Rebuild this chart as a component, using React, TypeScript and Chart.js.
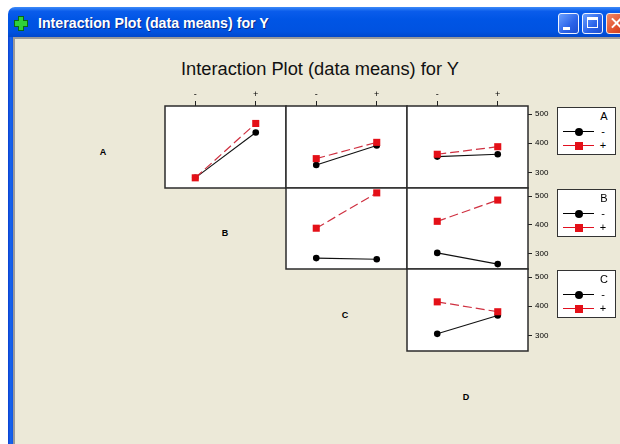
import React, { useEffect, useRef } from 'react';
import { Chart, registerables } from 'chart.js';

Chart.register(...registerables);

// ---- data ----
const levels = ['-', '+'];
const factors = ['A', 'B', 'C', 'D'];
const legendLevels = ['-', '+'];
const yTicks = [300, 400, 500];
const yMin = 246;
const yMax = 528;
const chartTitle = 'Interaction Plot (data means) for Y';

// means of Y: row factor at '-' (lo) and '+' (hi), across the column factor's levels
const AB_lo = [281, 437];
const AB_hi = [281, 468];
const AC_lo = [325, 392];
const AC_hi = [347, 403];
const AD_lo = [354, 362];
const AD_hi = [362, 388];
const BC_lo = [284, 280];
const BC_hi = [388, 511];
const BD_lo = [302, 263];
const BD_hi = [412, 486];
const CD_lo = [305, 368];
const CD_hi = [415, 381];

const panels = [
  { row: 0, col: 0, lo: AB_lo, hi: AB_hi },
  { row: 0, col: 1, lo: AC_lo, hi: AC_hi },
  { row: 0, col: 2, lo: AD_lo, hi: AD_hi },
  { row: 1, col: 1, lo: BC_lo, hi: BC_hi },
  { row: 1, col: 2, lo: BD_lo, hi: BD_hi },
  { row: 2, col: 2, lo: CD_lo, hi: CD_hi },
];

// ---- layout ----
const colX = [165, 286, 407, 528];
const rowY = [106, 188, 269, 351];
const M = 2;
const TOP_AXIS = 22;
const RIGHT_AXIS = 40;
const tickFont = "'Liberation Sans Narrow', 'Liberation Sans', Arial, sans-serif";

const framePlugin = {
  id: 'panelFrame',
  beforeDraw(chart: any) {
    const { ctx, chartArea: a } = chart;
    ctx.save();
    ctx.fillStyle = '#ffffff';
    ctx.fillRect(a.left, a.top, a.right - a.left, a.bottom - a.top);
    ctx.restore();
  },
  afterDraw(chart: any) {
    const { ctx, chartArea: a } = chart;
    ctx.save();
    ctx.strokeStyle = '#2b2b2b';
    ctx.lineWidth = 1.5;
    ctx.strokeRect(a.left, a.top, a.right - a.left, a.bottom - a.top);
    ctx.restore();
  },
};

function Panel({ spec }: { spec: any }) {
  const ref = useRef<HTMLCanvasElement>(null);
  const padT = spec.row === 0 ? TOP_AXIS : 0;
  const padR = spec.col === 2 ? RIGHT_AXIS : 0;
  const w = colX[spec.col + 1] - colX[spec.col];
  const h = rowY[spec.row + 1] - rowY[spec.row];
  const cw = w + padR + 2 * M;
  const ch = h + padT + 2 * M;
  const left = colX[spec.col] - M;
  const top = rowY[spec.row] - padT - M;

  useEffect(() => {
    const chart = new Chart(ref.current as HTMLCanvasElement, {
      type: 'line',
      data: {
        labels: levels,
        datasets: [
          {
            label: legendLevels[0],
            data: spec.lo,
            borderColor: '#111111',
            backgroundColor: '#000000',
            borderWidth: 1.1,
            pointStyle: 'circle',
            pointRadius: 3.3,
            pointBorderWidth: 0,
            order: 1,
            clip: false,
          },
          {
            label: legendLevels[1],
            data: spec.hi,
            borderColor: '#cf3040',
            backgroundColor: '#e41018',
            borderWidth: 1.2,
            borderDash: [9, 4],
            pointStyle: 'rect',
            pointRadius: 5,
            pointBorderWidth: 0,
            order: 0,
            clip: false,
          },
        ],
      },
      options: {
        responsive: false,
        animation: false,
        devicePixelRatio: 1,
        events: [],
        layout: { padding: M, autoPadding: false },
        plugins: {
          legend: { display: false },
          title: { display: false },
          tooltip: { enabled: false },
        },
        scales: {
          x: {
            type: 'category',
            position: 'top',
            offset: true,
            display: spec.row === 0,
            grid: {
              display: true,
              drawOnChartArea: false,
              drawTicks: true,
              tickLength: 5,
              color: '#222222',
              lineWidth: 1,
            },
            border: { display: false },
            ticks: {
              color: '#000000',
              font: { size: 9, family: tickFont },
              padding: 1,
              maxRotation: 0,
              autoSkip: false,
            },
            afterFit: (s: any) => {
              s.height = padT;
              s.paddingLeft = 0;
              s.paddingRight = 0;
              s.paddingTop = 0;
              s.paddingBottom = 0;
            },
          },
          y: {
            type: 'linear',
            position: 'right',
            min: yMin,
            max: yMax,
            display: spec.col === 2,
            afterBuildTicks: (s: any) => {
              s.ticks = yTicks.map((v) => ({ value: v }));
            },
            grid: {
              display: true,
              drawOnChartArea: false,
              drawTicks: true,
              tickLength: 4,
              color: '#222222',
              lineWidth: 1,
            },
            border: { display: false },
            ticks: {
              color: '#000000',
              font: { size: 8, family: tickFont },
              padding: 3,
            },
            afterFit: (s: any) => {
              s.width = padR;
              s.paddingLeft = 0;
              s.paddingRight = 0;
              s.paddingTop = 0;
              s.paddingBottom = 0;
            },
          },
        },
      } as any,
      plugins: [framePlugin],
    });
    return () => chart.destroy();
  }, []);

  return (
    <canvas
      ref={ref}
      width={cw}
      height={ch}
      style={{ position: 'absolute', left, top, width: cw, height: ch }}
    />
  );
}

function LegendBox({ title, top }: { title: string; top: number }) {
  const font = "'Liberation Sans', Arial, sans-serif";
  const row = (y: number, i: number) => (
    <React.Fragment key={i}>
      <div
        style={{
          position: 'absolute',
          left: 5,
          top: y,
          width: 31,
          height: 1,
          background: i === 0 ? '#000' : '#e01020',
        }}
      />
      {i === 0 ? (
        <div
          style={{
            position: 'absolute',
            left: 16.5,
            top: y - 3.5,
            width: 8,
            height: 8,
            borderRadius: '50%',
            background: '#000',
          }}
        />
      ) : (
        <div
          style={{
            position: 'absolute',
            left: 16.5,
            top: y - 3.5,
            width: 8,
            height: 8,
            background: '#e41018',
          }}
        />
      )}
      <div
        style={{
          position: 'absolute',
          left: 38,
          width: 14,
          top: y - 7,
          lineHeight: '14px',
          fontSize: 11,
          textAlign: 'center',
          fontFamily: font,
          color: '#000',
        }}
      >
        {legendLevels[i]}
      </div>
    </React.Fragment>
  );
  return (
    <div
      style={{
        position: 'absolute',
        left: 557,
        top,
        width: 59,
        height: 48,
        background: '#fff',
        border: '1px solid #333',
        boxSizing: 'border-box',
      }}
    >
      <div
        style={{
          position: 'absolute',
          left: 39,
          width: 14,
          top: 1,
          lineHeight: '14px',
          fontSize: 11,
          textAlign: 'center',
          fontFamily: font,
          color: '#000',
        }}
      >
        {title}
      </div>
      {row(23, 0)}
      {row(37, 1)}
    </div>
  );
}

const diagPos = [
  [103, 152],
  [225, 233],
  [345, 315],
  [466, 397],
];

const btnBlue = 'linear-gradient(135deg, #6aa0ff, #2a62e8 60%, #1d4fd0)';

export default function App() {
  return (
    <div
      style={{
        position: 'fixed',
        left: 0,
        top: 0,
        width: 620,
        height: 444,
        overflow: 'hidden',
        background: '#ffffff',
      }}
    >
      {/* window title bar */}
      <div
        style={{
          position: 'absolute',
          left: 8,
          top: 7,
          width: 640,
          height: 31,
          borderRadius: '7px 0 0 0',
          background:
            'linear-gradient(#3d8bf8 0%, #0a5ceb 14%, #0055e5 40%, #0052e0 80%, #0046c8 100%)',
        }}
      />
      {/* left frame */}
      <div
        style={{
          position: 'absolute',
          left: 8,
          top: 37,
          width: 6,
          height: 420,
          background: 'linear-gradient(to right, #0a3fd0, #1765ee 45%, #0a4fe0)',
        }}
      />
      {/* icon */}
      <div style={{ position: 'absolute', left: 14, top: 20, width: 12, height: 5, background: '#2fd23a', border: '1px solid #0b6b10' }} />
      <div style={{ position: 'absolute', left: 18, top: 16, width: 4, height: 13, background: '#2fd23a', border: '1px solid #0b6b10' }} />
      <div style={{ position: 'absolute', left: 18, top: 21, width: 6, height: 5, background: '#2fd23a' }} />
      <div style={{ position: 'absolute', left: 19, top: 20, width: 4, height: 7, background: '#2fd23a' }} />
      <div
        style={{
          position: 'absolute',
          left: 38,
          top: 15,
          fontFamily: "'Liberation Sans', Arial, sans-serif",
          fontWeight: 'bold',
          fontSize: 14.2,
          lineHeight: '16px',
          color: '#ffffff',
          textShadow: '1px 1px 0 #0a2a8a',
          whiteSpace: 'nowrap',
        }}
      >
        {chartTitle}
      </div>
      {/* caption buttons */}
      <div style={{ position: 'absolute', left: 558, top: 13, width: 21, height: 21, boxSizing: 'border-box', border: '1px solid #f0f4ff', borderRadius: 3, background: btnBlue }}>
        <div style={{ position: 'absolute', left: 4, top: 13, width: 7, height: 3, background: '#fff' }} />
      </div>
      <div style={{ position: 'absolute', left: 582, top: 13, width: 21, height: 21, boxSizing: 'border-box', border: '1px solid #f0f4ff', borderRadius: 3, background: btnBlue }}>
        <div style={{ position: 'absolute', left: 4, top: 3, width: 11, height: 11, boxSizing: 'border-box', borderTop: '3px solid #fff', borderLeft: '1px solid #fff', borderRight: '1px solid #fff', borderBottom: '1px solid #fff' }} />
      </div>
      <div style={{ position: 'absolute', left: 606, top: 13, width: 21, height: 21, boxSizing: 'border-box', border: '1px solid #f8e8e0', borderRadius: 3, background: 'linear-gradient(135deg, #f08a6a, #e0502c 60%, #c83a1a)' }}>
        <div style={{ position: 'absolute', left: 3, top: 8, width: 13, height: 2, background: '#fff', transform: 'rotate(45deg)' }} />
        <div style={{ position: 'absolute', left: 3, top: 8, width: 13, height: 2, background: '#fff', transform: 'rotate(-45deg)' }} />
      </div>
      {/* client area */}
      <div
        style={{
          position: 'absolute',
          left: 13,
          top: 37,
          width: 620,
          height: 420,
          boxSizing: 'border-box',
          background: '#ece9d8',
          borderLeft: '2px solid #9a9a9a',
          borderTop: '2px solid #9a9a9a',
        }}
      />
      {/* main title */}
      <div
        style={{
          position: 'absolute',
          left: 120,
          width: 400,
          top: 59,
          textAlign: 'center',
          fontFamily: "'Liberation Sans', Arial, sans-serif",
          fontSize: 18.3,
          lineHeight: '20px',
          color: '#111',
          whiteSpace: 'nowrap',
        }}
      >
        {chartTitle}
      </div>
      {/* diagonal factor labels */}
      {factors.map((f, i) => (
        <div
          key={f}
          style={{
            position: 'absolute',
            left: diagPos[i][0] - 10,
            width: 20,
            top: diagPos[i][1] - 6,
            lineHeight: '12px',
            textAlign: 'center',
            fontFamily: "'Liberation Sans', Arial, sans-serif",
            fontWeight: 'bold',
            fontSize: 9,
            color: '#000',
          }}
        >
          {f}
        </div>
      ))}
      {panels.map((p, i) => (
        <Panel key={i} spec={p} />
      ))}
      {factors.slice(0, 3).map((f, i) => (
        <LegendBox key={f} title={f} top={rowY[i] + 1} />
      ))}
    </div>
  );
}
